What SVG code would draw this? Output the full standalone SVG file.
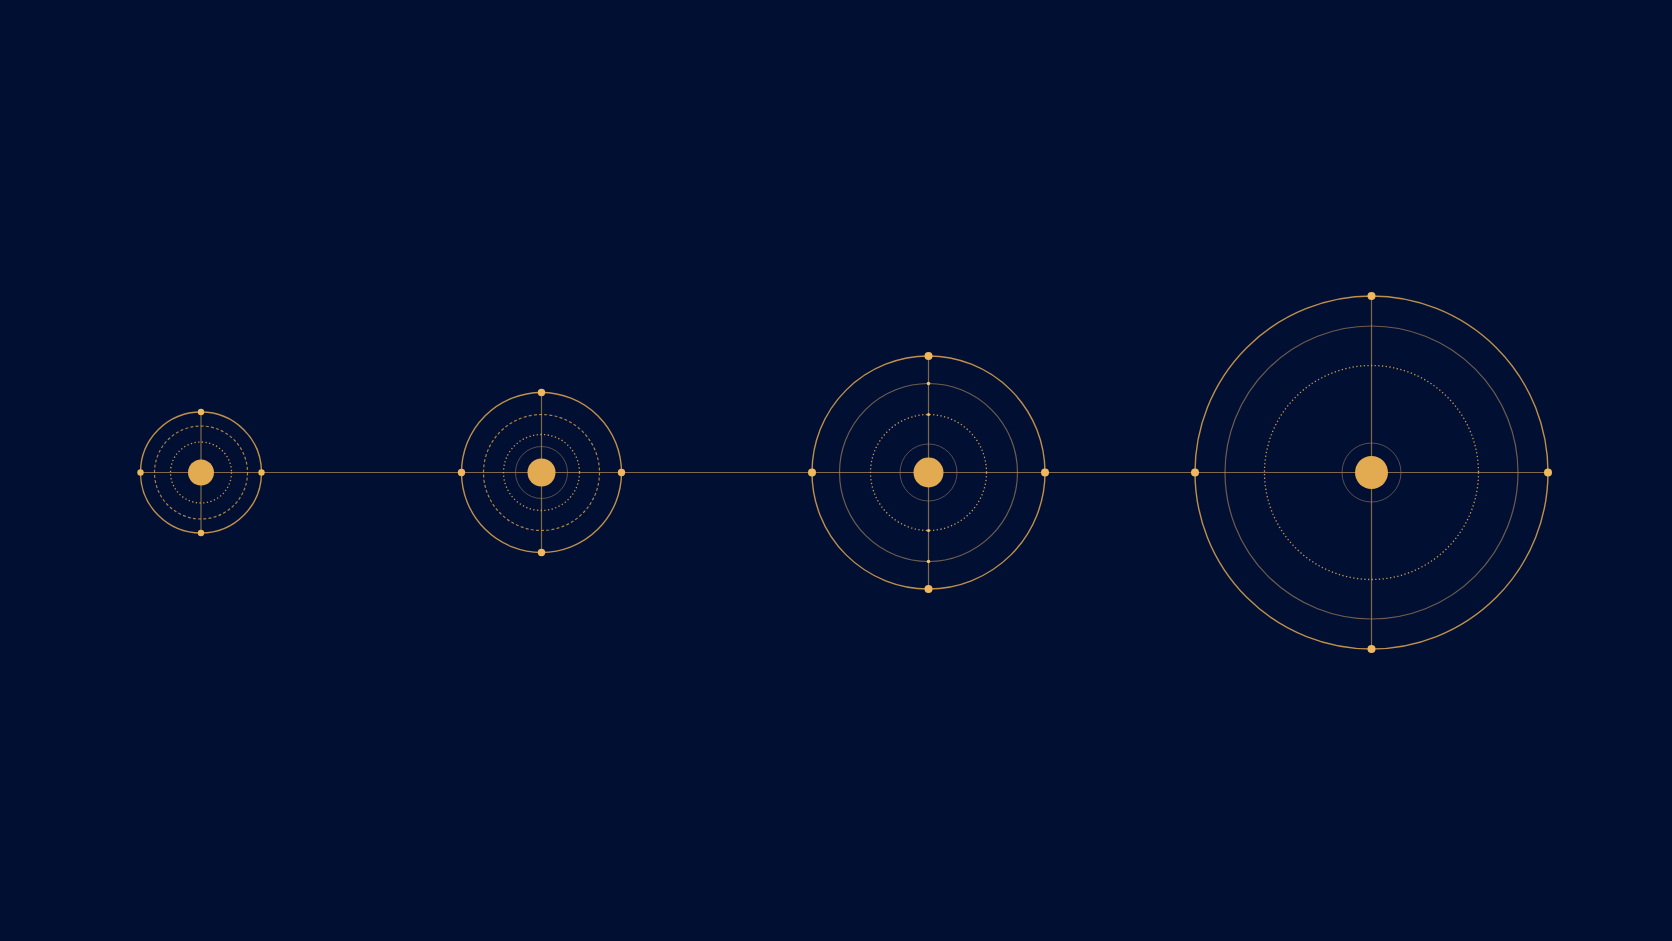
<svg xmlns="http://www.w3.org/2000/svg" width="1672" height="941" viewBox="0 0 1672 941">
<style>
.bg{fill:#011032}
.sun{fill:#E2AB52}
.dot{fill:#F0B85C}
.mini{fill:#F2C06A}
.outer{fill:none;stroke:#E0A650;stroke-width:1.4;stroke-opacity:0.85}
.solid2{fill:none;stroke:#B89060;stroke-width:1.2;stroke-opacity:0.6}
.dash{fill:none;stroke:#E0A650;stroke-width:1.2;stroke-opacity:0.75;stroke-dasharray:3 2.2}
.dotted{fill:none;stroke:#E8B058;stroke-width:1.3;stroke-opacity:0.85;stroke-dasharray:1.3 2.4}
.faint{fill:none;stroke:#9C8068;stroke-width:1;stroke-opacity:0.55}
.axis{stroke:#D8A45C;stroke-width:1.2;stroke-opacity:0.6}
</style>
<rect class="bg" x="0" y="0" width="1672" height="941"/>
<g id="connectors">
<line class="axis" x1="140.7" y1="472.5" x2="1547" y2="472.5"/>
<line class="axis" x1="201" y1="411" x2="201" y2="534"/>
<line class="axis" x1="541.5" y1="392.5" x2="541.5" y2="552.5"/>
<line class="axis" x1="928.5" y1="356" x2="928.5" y2="589"/>
<line class="axis" x1="1371.5" y1="296" x2="1371.5" y2="649"/>
</g>
<g id="system1">
<circle class="outer" cx="201" cy="472.5" r="60.5" stroke-opacity="0.75"/>
<circle class="dash" cx="201" cy="472.5" r="46.5"/>
<circle class="dotted" cx="201" cy="472.5" r="30.5"/>
<circle class="sun" cx="201" cy="472.5" r="13"/>
<circle class="dot" cx="140.5" cy="472.5" r="3.2"/>
<circle class="dot" cx="261.5" cy="472.5" r="3.2"/>
<circle class="dot" cx="201" cy="412" r="3.2"/>
<circle class="dot" cx="201" cy="533" r="3.2"/>
</g>
<g id="system2">
<circle class="faint" cx="541.5" cy="472.5" r="26" stroke-opacity="0.12"/>
<circle class="outer" cx="541.5" cy="472.5" r="80"/>
<circle class="dash" cx="541.5" cy="472.5" r="58"/>
<circle class="dotted" cx="541.5" cy="472.5" r="38"/>
<circle class="sun" cx="541.5" cy="472.5" r="14"/>
<circle class="dot" cx="461.5" cy="472.5" r="3.7"/>
<circle class="dot" cx="621.5" cy="472.5" r="3.7"/>
<circle class="dot" cx="541.5" cy="392.5" r="3.7"/>
<circle class="dot" cx="541.5" cy="552.5" r="3.7"/>
</g>
<g id="system3">
<circle class="outer" cx="928.5" cy="472.5" r="116.5"/>
<circle class="solid2" cx="928.5" cy="472.5" r="89"/>
<circle class="dotted" cx="928.5" cy="472.5" r="58"/>
<circle class="faint" cx="928.5" cy="472.5" r="28.5"/>
<circle class="sun" cx="928.5" cy="472.5" r="15"/>
<circle class="mini" cx="928.5" cy="383.5" r="1.8"/>
<circle class="mini" cx="928.5" cy="561.5" r="1.8"/>
<circle class="mini" cx="928.5" cy="414.5" r="1.5"/>
<circle class="mini" cx="928.5" cy="530.5" r="1.5"/>
<circle class="dot" cx="812" cy="472.5" r="4"/>
<circle class="dot" cx="1045" cy="472.5" r="4"/>
<circle class="dot" cx="928.5" cy="356" r="4"/>
<circle class="dot" cx="928.5" cy="589" r="4"/>
</g>
<g id="system4">
<circle class="outer" cx="1371.5" cy="472.5" r="176.5"/>
<circle class="solid2" cx="1371.5" cy="472.5" r="146.5"/>
<circle class="dotted" cx="1371.5" cy="472.5" r="107" stroke-opacity="0.75"/>
<circle class="faint" cx="1371.5" cy="472.5" r="29.5"/>
<circle class="sun" cx="1371.5" cy="472.5" r="16.5"/>
<circle class="dot" cx="1195" cy="472.5" r="4"/>
<circle class="dot" cx="1548" cy="472.5" r="4"/>
<circle class="dot" cx="1371.5" cy="296" r="4"/>
<circle class="dot" cx="1371.5" cy="649" r="4"/>
</g>
</svg>
